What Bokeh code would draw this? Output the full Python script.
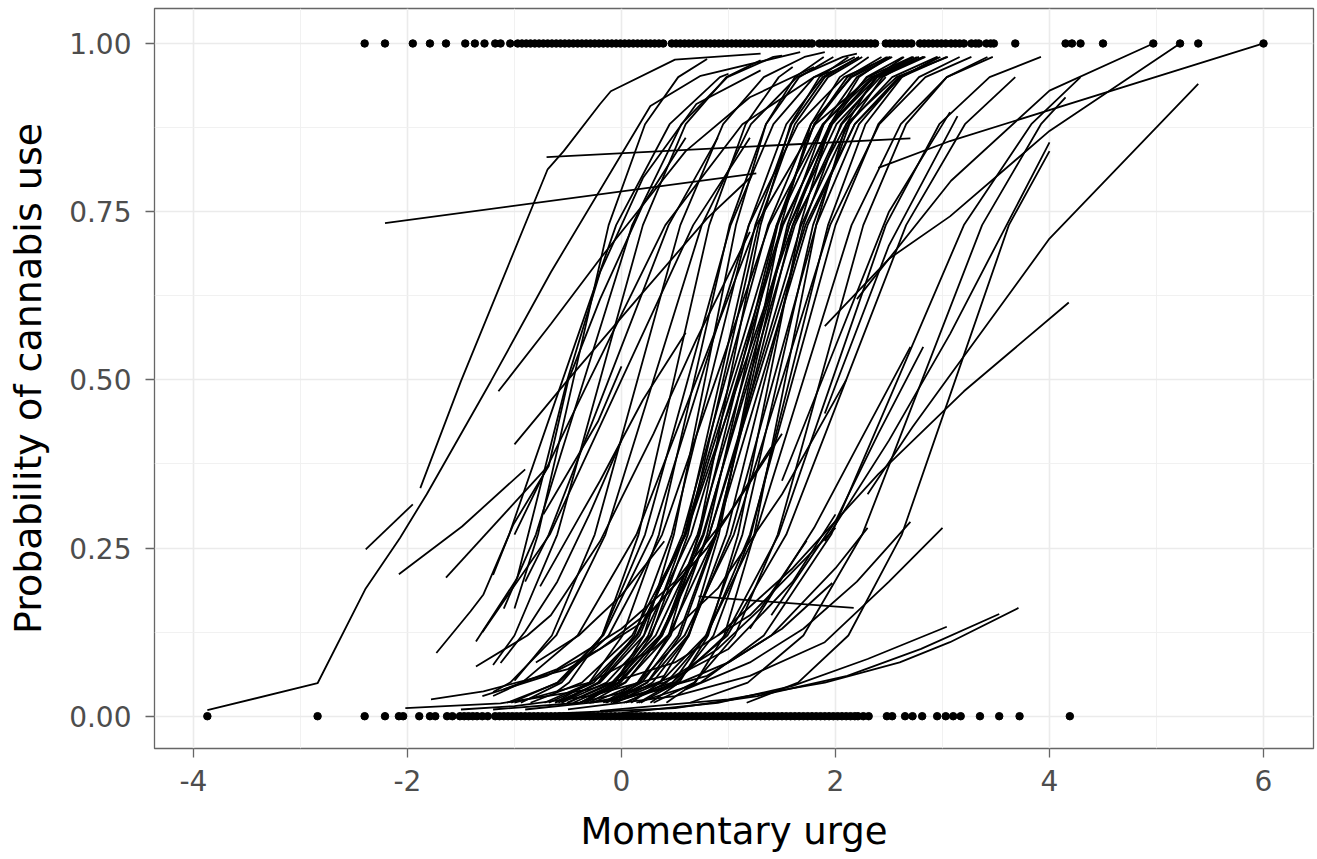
from bokeh.plotting import figure
from bokeh.models import Range1d, FixedTicker, NumeralTickFormatter
from bokeh.embed import file_html
from bokeh.resources import INLINE

# ---------------- data ----------------
x_ticks = [-4, -2, 0, 2, 4, 6]
x_minor = [-3, -1, 1, 3, 5]
y_ticks = [0.0, 0.25, 0.5, 0.75, 1.0]
y_minor = [0.125, 0.375, 0.625, 0.875]

# observed use (y = 1) urge values
top_x = [-2.40, -2.21, -1.95, -1.79, -1.64, -1.46, -1.37, -1.28, -1.18, -1.13, -1.04, -0.97,
         -0.93, -0.89, -0.85, -0.81, -0.77, -0.73, -0.69, -0.65, -0.61, -0.57, -0.53, -0.49,
         -0.45, -0.41, -0.37, -0.33, -0.29, -0.25, -0.21, -0.17, -0.13, -0.09, -0.05, -0.01,
         0.03, 0.07, 0.11, 0.15, 0.19, 0.23, 0.27, 0.31, 0.35, 0.39,
         0.47, 0.51, 0.55, 0.59, 0.63, 0.67, 0.71, 0.75, 0.79, 0.83, 0.87, 0.91, 0.95, 0.99,
         1.03, 1.07, 1.11, 1.15, 1.19, 1.23, 1.27, 1.31, 1.35, 1.39, 1.43, 1.47, 1.51, 1.55,
         1.59, 1.63, 1.67, 1.71, 1.75, 1.78,
         1.85, 1.89, 1.93, 1.97, 2.01, 2.05, 2.09, 2.13, 2.17, 2.21, 2.25, 2.29, 2.33, 2.37,
         2.47, 2.51, 2.55, 2.59, 2.63, 2.67, 2.71, 2.79, 2.83, 2.87, 2.91, 2.95, 2.99, 3.03,
         3.08, 3.12, 3.16, 3.20, 3.27, 3.31, 3.34, 3.41, 3.45, 3.48,
         3.68, 4.15, 4.21, 4.29, 4.50, 4.97, 5.22, 5.39, 6.00]

# observed non-use (y = 0) urge values
bottom_x = [-3.87, -2.84, -2.40, -2.21, -2.08, -2.04, -1.89, -1.79, -1.74, -1.63, -1.58,
            -1.51, -1.47, -1.43, -1.39, -1.35, -1.30, -1.25,
            -1.18, -1.14, -1.10, -1.06, -1.02, -0.98, -0.94, -0.90, -0.86, -0.82, -0.78,
            -0.74, -0.70, -0.66, -0.62, -0.58, -0.54, -0.50, -0.46, -0.42, -0.38, -0.34,
            -0.30, -0.26, -0.22, -0.18, -0.14, -0.10, -0.06, -0.02, 0.02, 0.06, 0.10, 0.14,
            0.18, 0.22, 0.26, 0.30, 0.34, 0.38, 0.42, 0.46, 0.50, 0.54, 0.58, 0.62, 0.66,
            0.70, 0.74, 0.78, 0.82, 0.86, 0.90, 0.94, 0.98, 1.02, 1.06, 1.10, 1.14, 1.18,
            1.22, 1.26, 1.30, 1.34, 1.38, 1.42, 1.46, 1.50, 1.54, 1.58, 1.62, 1.66, 1.70,
            1.74, 1.78, 1.82, 1.86, 1.90, 1.94, 1.98, 2.02, 2.06, 2.10, 2.14, 2.18, 2.21,
            2.26, 2.31, 2.48, 2.53, 2.65, 2.72, 2.81, 2.95, 3.03, 3.10, 3.17, 3.35, 3.53,
            3.72, 4.19]

# per-participant predicted probability curves (urge, probability)
lines_left = [
    [(-3.87, 0.009), (-2.84, 0.049), (-2.39, 0.19), (-2.07, 0.265), (-1.82, 0.33), (-1.22, 0.498),
     (-0.66, 0.66), (0.27, 0.907), (0.74, 0.952), (1.67, 0.987)],
    [(-1.88, 0.339), (-1.50, 0.498), (-0.69, 0.813), (-0.54, 0.84), (-0.20, 0.91), (-0.10, 0.929),
     (0.50, 0.976), (1.30, 0.985)],
    [(-0.70, 0.831), (2.70, 0.859)],
    [(-2.21, 0.733), (1.26, 0.807)],
    [(-2.39, 0.248), (-1.95, 0.315)],
    [(-2.08, 0.211), (-1.49, 0.282), (-0.90, 0.367)],
    [(-1.64, 0.206), (-0.68, 0.373)],
    [(-1.15, 0.483), (-0.66, 0.583), (-0.20, 0.68), (0.30, 0.78), (0.60, 0.84), (1.20, 0.92), (1.80, 0.965)],
    [(-1.00, 0.404), (-0.50, 0.50), (0.20, 0.63), (0.80, 0.74), (1.20, 0.80)],
    [(-1.73, 0.094), (-1.41, 0.156), (-1.29, 0.181), (-1.01, 0.285), (-0.68, 0.372), (-0.50, 0.498),
     (-0.20, 0.62), (0.20, 0.76), (0.60, 0.86)],
    [(-1.36, 0.111), (-0.975, 0.205), (-0.51, 0.498), (-0.20, 0.66), (0.20, 0.80), (0.70, 0.91), (1.30, 0.96)],
    [(-0.76, 0.193), (-0.38, 0.30), (-0.20, 0.35), (0.20, 0.47), (0.60, 0.57)],
    [(-0.73, 0.30), (-0.22, 0.438), (0.00, 0.52)],
    [(-1.36, 0.074), (-0.88, 0.12), (-0.66, 0.15), (-0.20, 0.26), (0.30, 0.42), (0.70, 0.56), (1.20, 0.72)],
    [(-1.78, 0.025), (-1.29, 0.037), (-0.50, 0.07), (0.20, 0.14), (0.80, 0.25), (1.50, 0.42)],
    [(-2.02, 0.012), (-1.13, 0.019), (-0.30, 0.04), (0.50, 0.08), (1.20, 0.15), (2.00, 0.28)],
    [(-1.13, 0.079), (-0.90, 0.126), (-0.60, 0.20), (-0.30, 0.30), (0.00, 0.41)],
]

lines_core_early = [
    [(-1.20, 0.21), (-1.05, 0.27), (-0.55, 0.5), (-0.05, 0.73), (0.45, 0.88), (0.92, 0.95), (1.00, 0.955)],
    [(-1.00, 0.16), (-0.78, 0.27), (-0.45, 0.5), (-0.12, 0.73), (0.22, 0.88), (0.53, 0.95), (0.80, 0.977)],
    [(-1.10, 0.16), (-0.80, 0.27), (-0.35, 0.5), (0.10, 0.73), (0.56, 0.88), (0.99, 0.95), (1.42, 0.98), (1.50, 0.982)],
    [(-1.20, 0.076), (-1.00, 0.12), (-0.60, 0.27), (-0.20, 0.5), (0.20, 0.73), (0.60, 0.88), (0.98, 0.95), (1.30, 0.975)],
    [(-0.90, 0.20), (-0.68, 0.27), (-0.12, 0.5), (0.44, 0.73), (0.90, 0.86)],
    [(-1.00, 0.053), (-0.65, 0.12), (-0.25, 0.27), (0.15, 0.5), (0.55, 0.73), (0.95, 0.88), (1.33, 0.95), (1.71, 0.98), (1.90, 0.987)],
    [(-1.20, 0.036), (-1.04, 0.05), (-0.61, 0.12), (-0.15, 0.27), (0.30, 0.5), (0.75, 0.73), (1.21, 0.88), (1.64, 0.95), (2.07, 0.98), (2.20, 0.985)],
    [(-0.60, 0.037), (-0.49, 0.05), (-0.18, 0.12), (0.16, 0.27), (0.49, 0.5), (0.82, 0.73), (1.16, 0.88), (1.47, 0.95), (1.60, 0.965)],
    [(-1.30, 0.125), (-0.67, 0.27), (0.00, 0.5), (0.67, 0.73), (1.20, 0.86)],
    [(-1.00, 0.27), (-0.30, 0.5), (0.41, 0.73), (1.13, 0.88), (1.80, 0.95), (2.00, 0.96)],
]

lines_core_mid = [
    [(-0.94, 0.02), (-0.56, 0.05), (-0.18, 0.12), (0.22, 0.27), (0.62, 0.5), (1.02, 0.73), (1.42, 0.88), (1.80, 0.95), (2.18, 0.98)],
    [(-0.62, 0.02), (-0.30, 0.05), (0.01, 0.12), (0.35, 0.27), (0.68, 0.5), (1.01, 0.73), (1.35, 0.88), (1.66, 0.95), (1.98, 0.98)],
    [(-1.03, 0.02), (-0.60, 0.05), (-0.17, 0.12), (0.29, 0.27), (0.74, 0.5), (1.19, 0.73), (1.65, 0.88), (2.08, 0.95), (2.51, 0.98)],
    [(-0.33, 0.02), (-0.06, 0.05), (0.21, 0.12), (0.49, 0.27), (0.78, 0.5), (1.07, 0.73), (1.35, 0.88), (1.62, 0.95), (1.89, 0.98)],
    [(-0.56, 0.02), (-0.22, 0.05), (0.12, 0.12), (0.47, 0.27), (0.83, 0.5), (1.19, 0.73), (1.54, 0.88), (1.88, 0.95), (2.22, 0.98)],
    [(-1.07, 0.02), (-0.59, 0.05), (-0.12, 0.12), (0.38, 0.27), (0.88, 0.5), (1.38, 0.73), (1.88, 0.88), (2.35, 0.95), (2.83, 0.98)],
    [(-0.38, 0.02), (-0.06, 0.05), (0.25, 0.12), (0.59, 0.27), (0.92, 0.5), (1.25, 0.73), (1.59, 0.88), (1.90, 0.95), (2.22, 0.98)],
    [(-0.59, 0.02), (-0.21, 0.05), (0.17, 0.12), (0.57, 0.27), (0.97, 0.5), (1.37, 0.73), (1.77, 0.88), (2.15, 0.95), (2.53, 0.98)],
    [(-0.10, 0.02), (0.17, 0.05), (0.44, 0.12), (0.72, 0.27), (1.01, 0.5), (1.30, 0.73), (1.58, 0.88), (1.85, 0.95), (2.12, 0.98)],
    [(-0.72, 0.02), (-0.29, 0.05), (0.14, 0.12), (0.60, 0.27), (1.05, 0.5), (1.50, 0.73), (1.96, 0.88), (2.39, 0.95), (2.82, 0.98)],
    [(-0.30, 0.02), (0.04, 0.05), (0.38, 0.12), (0.73, 0.27), (1.09, 0.5), (1.45, 0.73), (1.80, 0.88), (2.14, 0.95), (2.48, 0.98)],
    [(-0.17, 0.02), (0.15, 0.05), (0.46, 0.12), (0.80, 0.27), (1.13, 0.5), (1.46, 0.73), (1.80, 0.88), (2.11, 0.95), (2.43, 0.98)],
    [(-0.39, 0.02), (-0.01, 0.05), (0.37, 0.12), (0.77, 0.27), (1.17, 0.5), (1.57, 0.73), (1.97, 0.88), (2.35, 0.95), (2.73, 0.98)],
    [(0.09, 0.02), (0.36, 0.05), (0.63, 0.12), (0.91, 0.27), (1.20, 0.5), (1.49, 0.73), (1.77, 0.88), (2.04, 0.95), (2.31, 0.98)],
    [(-0.15, 0.02), (0.19, 0.05), (0.53, 0.12), (0.88, 0.27), (1.24, 0.5), (1.60, 0.73), (1.95, 0.88), (2.29, 0.95), (2.63, 0.98)],
    [(-0.50, 0.02), (-0.07, 0.05), (0.36, 0.12), (0.82, 0.27), (1.27, 0.5), (1.72, 0.73), (2.18, 0.88), (2.61, 0.95), (3.04, 0.98)],
    [(-1.20, 0.03), (-0.93, 0.05), (-0.41, 0.12), (0.14, 0.27), (0.70, 0.5), (1.26, 0.73), (1.81, 0.88), (2.33, 0.95), (2.60, 0.965)],
    [(-0.35, 0.02), (-0.03, 0.05), (0.28, 0.12), (0.62, 0.27), (0.95, 0.5), (1.28, 0.73), (1.62, 0.88), (1.93, 0.95), (2.25, 0.98)],
    [(-0.85, 0.02), (-0.37, 0.05), (0.10, 0.12), (0.60, 0.27), (1.10, 0.5), (1.60, 0.73), (2.10, 0.88), (2.57, 0.95), (3.05, 0.98)],
    [(-0.08, 0.02), (0.24, 0.05), (0.55, 0.12), (0.89, 0.27), (1.22, 0.5), (1.55, 0.73), (1.89, 0.88), (2.20, 0.95), (2.52, 0.98)],
    [(-0.68, 0.02), (-0.26, 0.05), (0.15, 0.12), (0.59, 0.27), (1.02, 0.5), (1.45, 0.73), (1.89, 0.88), (2.30, 0.95), (2.72, 0.98)],
    [(-0.62, 0.02), (-0.20, 0.05), (0.21, 0.12), (0.65, 0.27), (1.08, 0.5), (1.51, 0.73), (1.95, 0.88), (2.36, 0.95), (2.78, 0.98)],
    [(-0.56, 0.02), (-0.14, 0.05), (0.27, 0.12), (0.71, 0.27), (1.14, 0.5), (1.57, 0.73), (2.01, 0.88), (2.42, 0.95), (2.84, 0.98)],
    [(-0.51, 0.02), (-0.09, 0.05), (0.32, 0.12), (0.76, 0.27), (1.19, 0.5), (1.62, 0.73), (2.06, 0.88), (2.47, 0.95)],
    [(-0.45, 0.02), (-0.03, 0.05), (0.38, 0.12), (0.82, 0.27), (1.25, 0.5), (1.68, 0.73), (2.12, 0.88), (2.53, 0.95), (2.95, 0.98)],
    [(-0.39, 0.02), (0.03, 0.05), (0.44, 0.12), (0.88, 0.27), (1.31, 0.5), (1.74, 0.73), (2.18, 0.88), (2.59, 0.95)],
]

lines_core_late = [
    [(-0.05, 0.02), (0.29, 0.05), (0.63, 0.12), (0.98, 0.27), (1.34, 0.5), (1.70, 0.73), (2.05, 0.88), (2.39, 0.95), (2.73, 0.98)],
    [(0.27, 0.02), (0.54, 0.05), (0.81, 0.12), (1.09, 0.27), (1.38, 0.5), (1.67, 0.73), (1.95, 0.88), (2.22, 0.95), (2.49, 0.98)],
    [(-0.14, 0.02), (0.24, 0.05), (0.62, 0.12), (1.02, 0.27), (1.42, 0.5), (1.82, 0.73), (2.22, 0.88), (2.60, 0.95), (2.98, 0.98)],
    [(0.16, 0.02), (0.48, 0.05), (0.79, 0.12), (1.13, 0.27), (1.46, 0.5), (1.79, 0.73), (2.13, 0.88), (2.44, 0.95), (2.76, 0.98)],
    [(-0.27, 0.02), (0.16, 0.05), (0.59, 0.12), (1.05, 0.27), (1.50, 0.5), (1.95, 0.73), (2.41, 0.88), (2.84, 0.95), (3.27, 0.98)],
    [(0.42, 0.02), (0.69, 0.05), (0.96, 0.12), (1.24, 0.27), (1.53, 0.5), (1.82, 0.73), (2.10, 0.88), (2.37, 0.95), (2.64, 0.98)],
    [(0.18, 0.02), (0.52, 0.05), (0.86, 0.12), (1.21, 0.27), (1.57, 0.5), (1.93, 0.73), (2.28, 0.88), (2.62, 0.95), (2.96, 0.98)],
    [(0.04, 0.02), (0.42, 0.05), (0.80, 0.12), (1.20, 0.27), (1.60, 0.5), (2.00, 0.73), (2.40, 0.88), (2.78, 0.95), (3.16, 0.98)],
    [(-0.07, 0.02), (0.36, 0.05), (0.79, 0.12), (1.25, 0.27), (1.70, 0.5), (2.15, 0.73), (2.61, 0.88), (3.04, 0.95), (3.47, 0.98)],
    [(0.30, 0.02), (0.68, 0.05), (1.06, 0.12), (1.46, 0.27), (1.86, 0.5), (2.26, 0.73), (2.66, 0.88), (3.04, 0.95), (3.42, 0.98)],
    [(0.02, 0.02), (0.50, 0.05), (0.97, 0.12), (1.47, 0.27), (1.97, 0.5), (2.47, 0.73), (2.97, 0.88), (3.44, 0.95), (3.92, 0.98)],
    [(-0.07, 0.02), (0.47, 0.05), (0.99, 0.12), (1.54, 0.27), (2.10, 0.5), (2.66, 0.73), (3.21, 0.88), (3.68, 0.95)],
]

lines_right = [
    [(2.40, 0.815), (3.07, 0.855), (6.00, 1.00)],
    [(1.90, 0.58), (2.50, 0.68), (3.07, 0.743), (4.00, 0.87), (5.22, 1.00)],
    [(2.20, 0.62), (3.08, 0.796), (4.00, 0.93), (4.97, 1.00)],
    [(2.30, 0.33), (2.72, 0.43), (3.04, 0.50), (4.00, 0.71), (5.39, 0.94)],
    [(1.90, 0.26), (2.50, 0.41), (3.07, 0.568), (4.00, 0.853)],
    [(0.90, 0.12), (1.60, 0.22), (2.40, 0.36), (3.20, 0.483), (4.18, 0.615)],
    [(1.20, 0.13), (1.80, 0.28), (2.20, 0.40), (2.70, 0.549)],
    [(1.40, 0.15), (2.00, 0.29), (2.40, 0.42), (2.82, 0.549)],
    [(1.50, 0.35), (2.00, 0.55), (2.50, 0.75), (3.07, 0.898)],
    [(1.90, 0.45), (2.50, 0.70), (3.14, 0.892)],
    [(0.14, 0.02), (0.74, 0.05), (1.33, 0.12), (1.96, 0.27), (2.58, 0.5), (3.20, 0.73), (3.83, 0.88), (4.29, 0.95)],
    [(0.64, 0.02), (1.18, 0.05), (1.70, 0.12), (2.25, 0.27), (2.81, 0.5), (3.37, 0.73), (3.92, 0.88), (4.15, 0.92)],
    [(1.17, 0.02), (1.65, 0.05), (2.12, 0.12), (2.62, 0.27), (3.12, 0.50), (3.62, 0.73), (4.00, 0.84)],
]

lines_low = [
    [(-1.20, 0.01), (-0.40, 0.02), (0.40, 0.05), (1.00, 0.10), (1.60, 0.20), (2.00, 0.30)],
    [(-0.90, 0.01), (0.00, 0.025), (0.80, 0.06), (1.40, 0.12), (2.00, 0.22), (2.30, 0.28)],
    [(-1.00, 0.02), (-0.30, 0.05), (0.30, 0.10), (0.90, 0.19), (1.50, 0.33), (2.10, 0.50)],
    [(-0.50, 0.01), (0.50, 0.03), (1.20, 0.06), (1.90, 0.11), (2.50, 0.20), (3.00, 0.28)],
    [(-1.10, 0.04), (-0.60, 0.07), (0.00, 0.13), (0.50, 0.20), (1.00, 0.30), (1.40, 0.40)],
    [(-1.30, 0.03), (-0.70, 0.06), (-0.20, 0.10), (0.30, 0.16), (0.80, 0.25)],
    [(-0.80, 0.08), (-0.40, 0.12), (0.00, 0.18), (0.40, 0.26)],
    [(0.00, 0.03), (0.50, 0.06), (0.90, 0.10), (1.30, 0.16), (1.73, 0.261)],
    [(-0.30, 0.02), (0.40, 0.04), (1.00, 0.08), (1.50, 0.13), (1.97, 0.198)],
    [(0.60, 0.04), (1.20, 0.08), (1.70, 0.13), (2.20, 0.20), (2.70, 0.289)],
    [(0.72, 0.178), (2.17, 0.161)],
    [(-1.50, 0.01), (-1.00, 0.015), (-0.30, 0.03), (0.40, 0.06)],
    [(-0.20, 0.008), (1.00, 0.025), (1.90, 0.05), (2.60, 0.08), (3.07, 0.11), (3.71, 0.161)],
    [(-0.60, 0.004), (0.50, 0.012), (1.27, 0.03), (2.11, 0.06), (2.80, 0.10), (3.53, 0.152)],
    [(0.00, 0.005), (0.90, 0.02), (1.60, 0.045), (2.30, 0.085), (3.04, 0.133)],
]

# ---------------- figure ----------------
FONT = "DejaVu Sans"

p = figure(width=1317, height=859,
           x_range=Range1d(-4.364, 6.467), y_range=Range1d(-0.048, 1.052),
           output_backend="svg", toolbar_location=None,
           min_border_left=154, min_border_right=4, min_border_top=8, min_border_bottom=111,
           background_fill_color="white", border_fill_color="white")

all_lines = lines_left + lines_core_early + lines_core_mid + lines_core_late + lines_right + lines_low
xs = [[pt[0] for pt in ln] for ln in all_lines]
ys = [[pt[1] for pt in ln] for ln in all_lines]
p.multi_line(xs, ys, line_color="black", line_width=1.8)

p.scatter(top_x, [1.0] * len(top_x), size=7.5, color="black")
p.scatter(bottom_x, [0.0] * len(bottom_x), size=7.5, color="black")

p.xaxis.ticker = FixedTicker(ticks=x_ticks, minor_ticks=x_minor)
p.yaxis.ticker = FixedTicker(ticks=y_ticks, minor_ticks=y_minor)
p.xaxis.formatter = NumeralTickFormatter(format="0")
p.yaxis.formatter = NumeralTickFormatter(format="0.00")

for g in (p.xgrid, p.ygrid):
    g.grid_line_color = "#EBEBEB"
    g.grid_line_width = 1.6
    g.minor_grid_line_color = "#EFEFEF"
    g.minor_grid_line_width = 0.9

p.outline_line_color = "#666666"
p.outline_line_width = 1.3

p.xaxis.axis_label = "Momentary urge"
p.yaxis.axis_label = "Probability of cannabis use"
for ax in (p.xaxis, p.yaxis):
    ax.axis_line_color = None
    ax.major_tick_line_color = "#666666"
    ax.major_tick_line_width = 1.3
    ax.major_tick_out = 9
    ax.major_tick_in = 0
    ax.minor_tick_line_color = None
    ax.major_label_text_font = FONT
    ax.major_label_text_font_size = "28px"
    ax.major_label_text_color = "#4D4D4D"
    ax.axis_label_text_font = FONT
    ax.axis_label_text_font_style = "normal"
    ax.axis_label_text_color = "black"
p.xaxis.axis_label_text_font_size = "37px"
p.yaxis.axis_label_text_font_size = "38px"
p.xaxis.major_label_standoff = 12
p.yaxis.major_label_standoff = 14
p.xaxis.axis_label_standoff = 16
p.yaxis.axis_label_standoff = 16

open("out.html", "w").write(file_html(p, INLINE))
